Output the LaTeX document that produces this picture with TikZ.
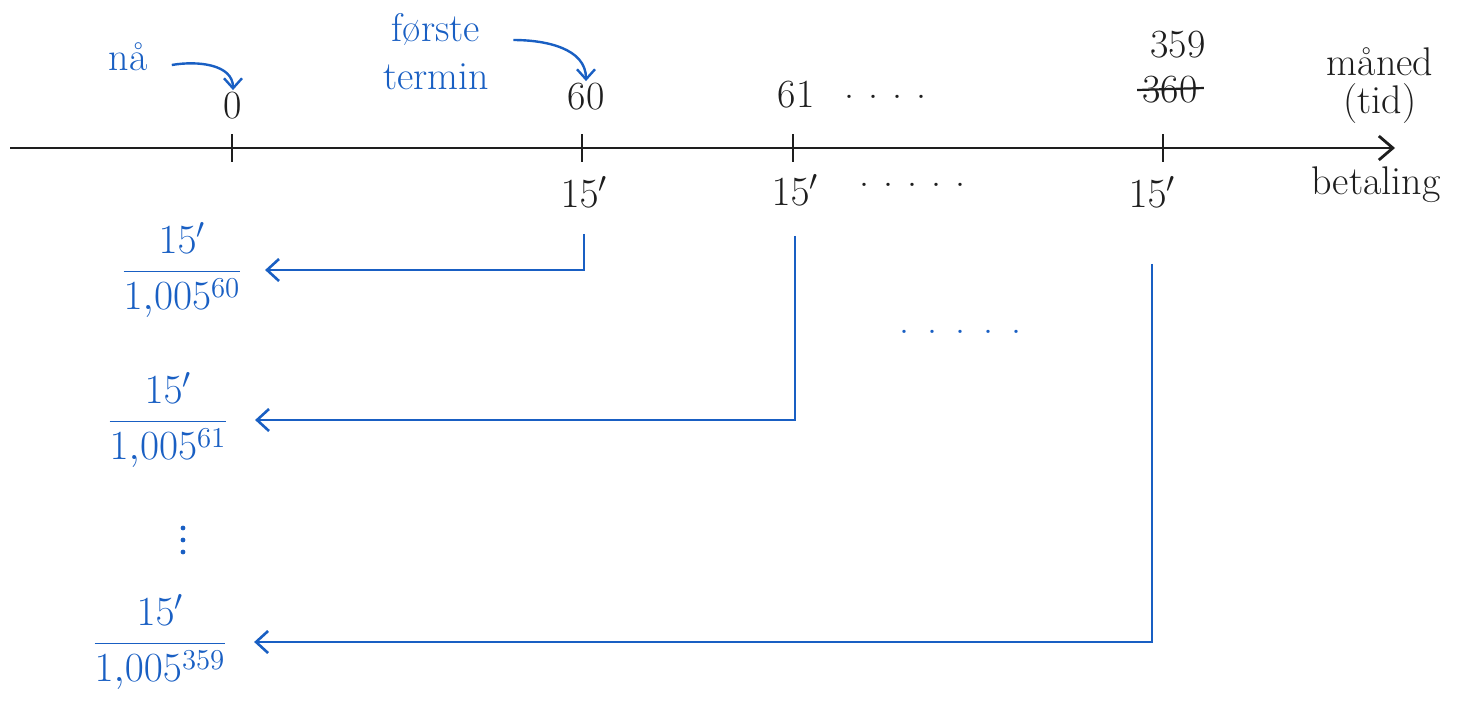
\documentclass[tikz,border=0pt]{standalone}
\usetikzlibrary{arrows.meta,calc}
\definecolor{penblue}{RGB}{25,95,195}
\definecolor{penblack}{RGB}{30,30,30}
\begin{document}
\begin{tikzpicture}[x=0.5pt,y=-0.5pt,
  every node/.style={font=\fontsize{20}{24}\selectfont, inner sep=1pt, text=penblack},
  lbl/.style={},
  bluelbl/.style={text=penblue},
  fracstyle/.style={text=penblue, font=\fontsize{22}{26}\selectfont},
  axisline/.style={draw=penblack, line width=1.4pt, -{Straight Barb[length=7pt,width=12pt,line width=1.4pt]}},
  tickmark/.style={draw=penblack, line width=1.4pt},
  conn/.style={draw=penblue, line width=1.3pt, -{Straight Barb[length=6pt,width=11pt,line width=1.3pt]}},
  hint/.style={draw=penblue, line width=1.2pt, -{Straight Barb[length=5pt,width=9pt,line width=1.2pt]}},
  penDot/.style={fill=penblue}]
\useasboundingbox (0,0) rectangle (1458,709);

% time axis
\coordinate (axs) at (10,148);
\coordinate (axe) at (1395,148);
\draw[axisline] (axs) -- (axe);

% ticks
\coordinate (k0) at (232,148);
\coordinate (k60) at (582,148);
\coordinate (k61) at (793,148);
\coordinate (k359) at (1163,148);
\foreach \k in {k0,k60,k61,k359}
  \draw[tickmark] ($(\k)+(0,-14)$) -- ($(\k)+(0,14)$);

% labels above axis
\node[lbl] (l0) at (233,106) {0};
\node[lbl] (l60) at (586,97) {60};
\node[lbl] (l61) at (796,95) {61};
\node[lbl] (d61) at (885,97) {.\hspace{7pt}.\hspace{7pt}.\hspace{7pt}.};
\node[lbl] (l359) at (1178,45) {359};
\node[lbl] (l360) at (1170,90) {360};
\draw[penblack, line width=1.1pt] ($(l360.west)+(-3,0)$) -- ($(l360.east)+(4,-2)$);
\node[lbl, align=center, font=\fontsize{20}{19}\selectfont] (maned) at (1380,86) {måned\\(tid)};

% labels below axis
\node[lbl] (b60) at (584,192) {$15'$};
\node[lbl] (b61) at (795,190) {$15'$};
\node[lbl] (bd) at (912,185) {.\hspace{7pt}.\hspace{7pt}.\hspace{7pt}.\hspace{7pt}.};
\node[lbl] (b359) at (1152,192) {$15'$};
\node[lbl] (betaling) at (1376,185) {betaling};

% blue annotations
\node[bluelbl] (na) at (128,57) {nå};
\draw[hint] ($(na.east)+(22,8)$) to[out=10,in=90] (l0.north);
\node[bluelbl, align=center] (ft) at (436,52) {første\\termin};
\draw[hint] ($(ft.east)+(22,-12)$) to[out=0,in=90] (l60.north);

% discounted values
\node[fracstyle] (f60) at (182,270) {$\displaystyle\frac{15'}{1{,}005^{60}}$};
\node[fracstyle] (f61) at (168,420) {$\displaystyle\frac{15'}{1{,}005^{61}}$};
\foreach \yy in {528,540,552} \fill[penDot] (183,\yy) circle (1.2pt);
\node[fracstyle] (f359) at (160,642) {$\displaystyle\frac{15'}{1{,}005^{359}}$};
\node[bluelbl] (md) at (960,332) {.\hspace{9pt}.\hspace{9pt}.\hspace{9pt}.\hspace{9pt}.};

% connectors
\draw[conn, shorten <=12pt, shorten >=10pt] (b60.south) |- (f60.east);
\draw[conn, shorten <=14pt, shorten >=12pt] (b61.south) |- (f61.east);
\draw[conn, shorten <=27pt, shorten >=12pt] (b359.south) |- (f359.east);
\end{tikzpicture}
\end{document}
